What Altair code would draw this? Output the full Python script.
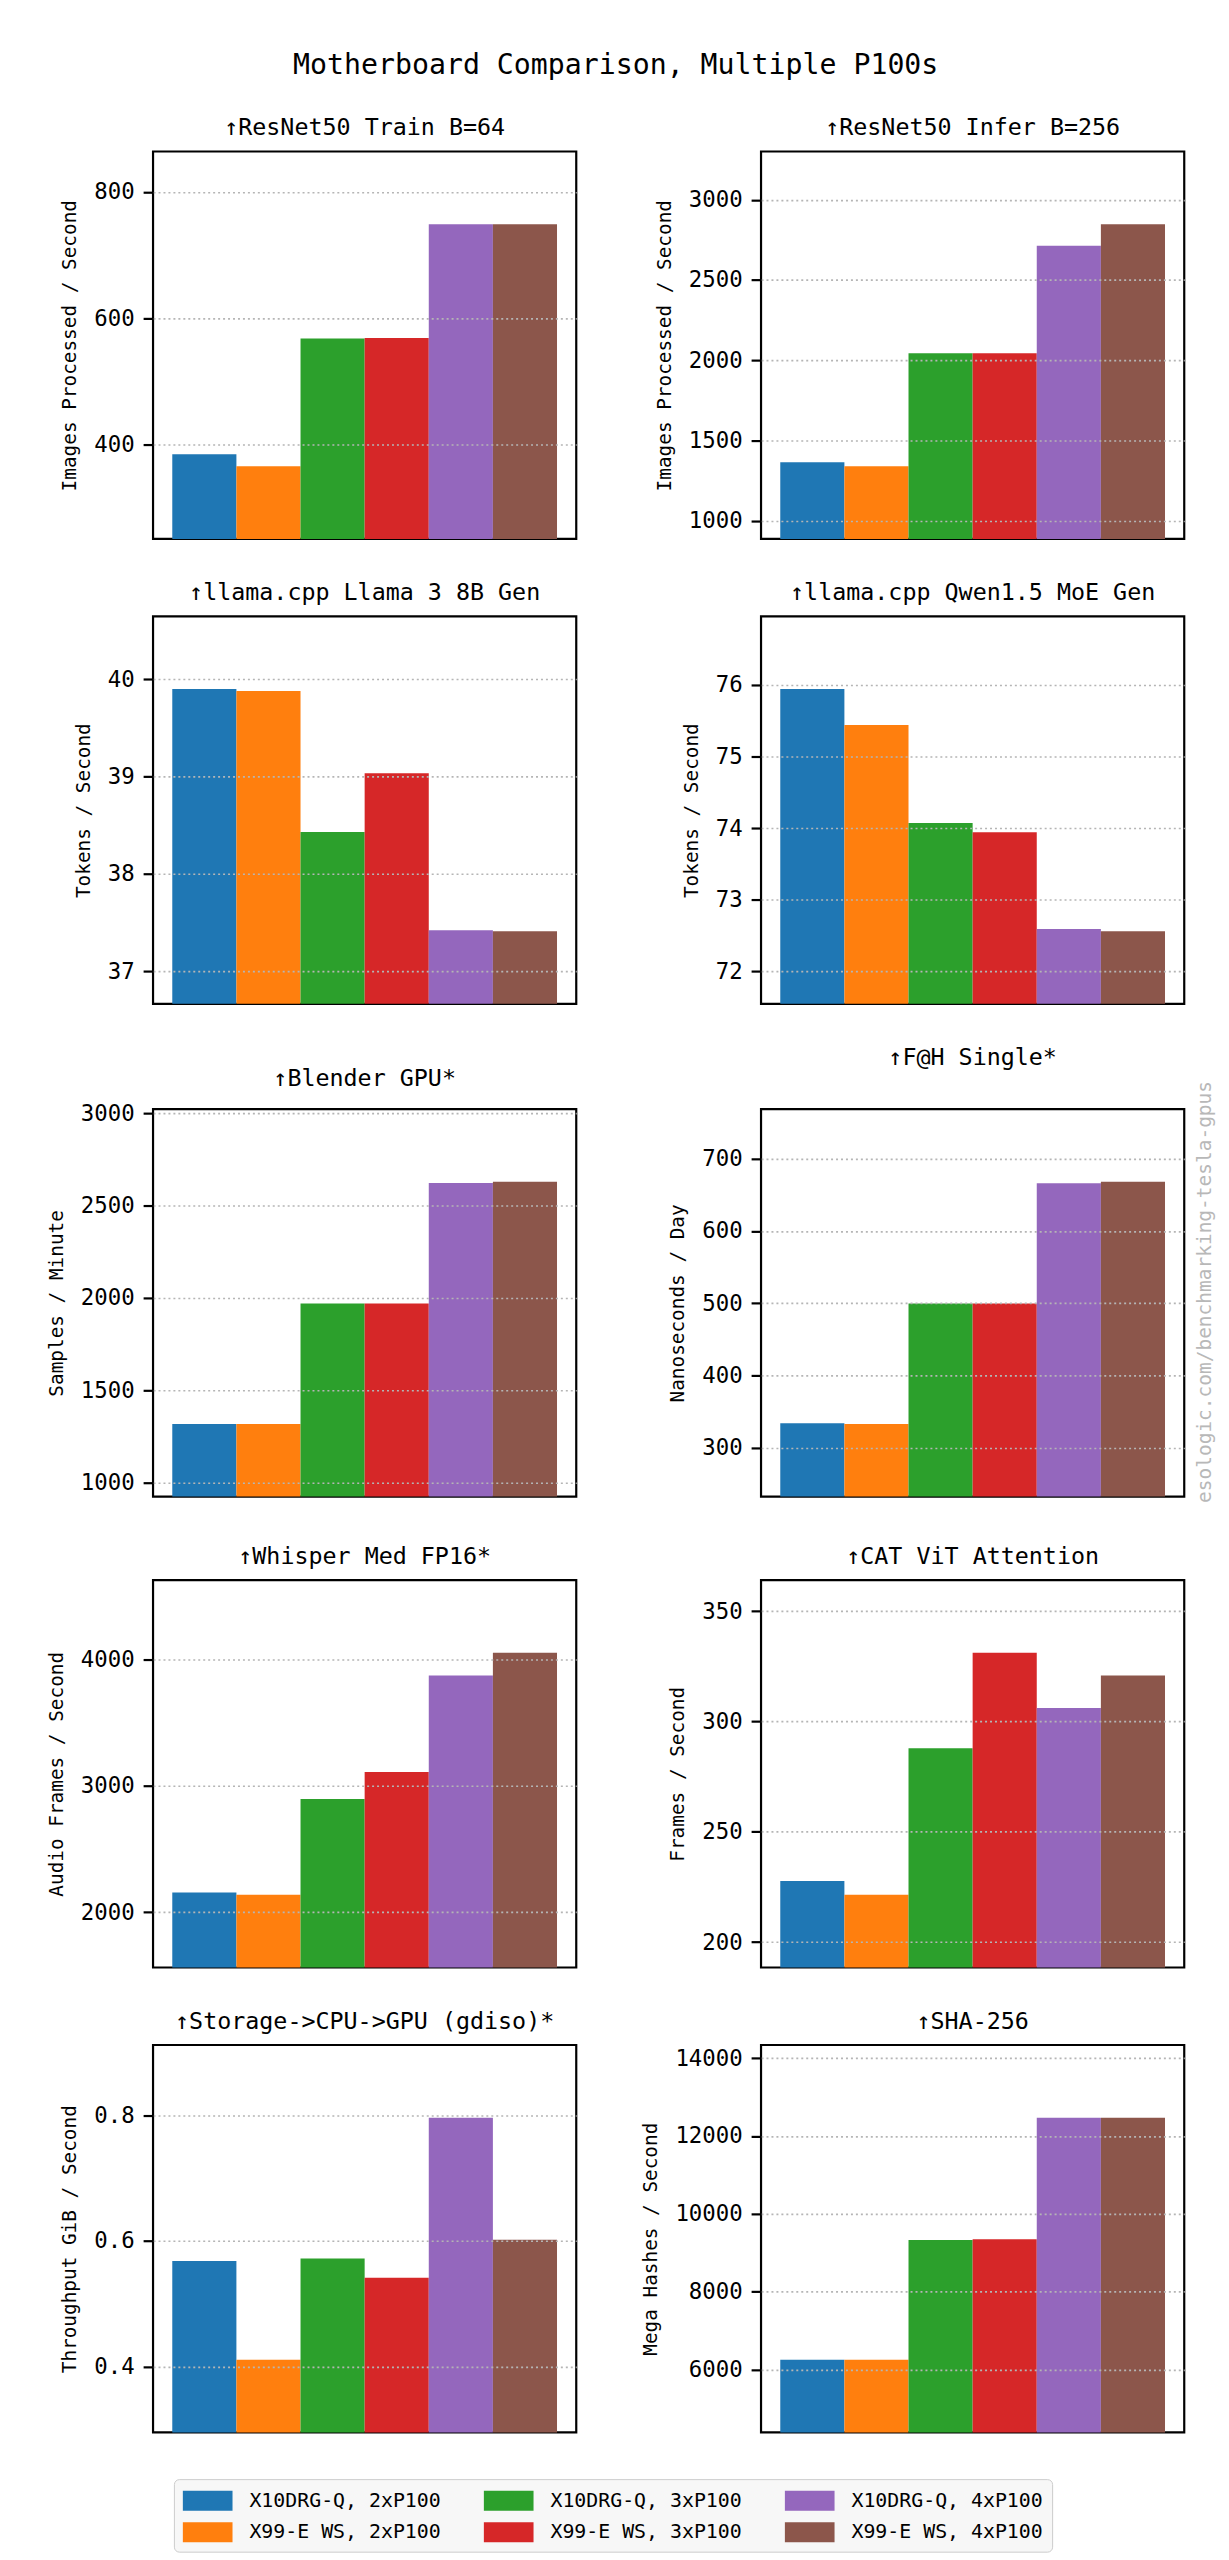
import altair as alt
import pandas as pd

FONT = "DejaVu Sans Mono"

benchmarks = [
    "↑ResNet50 Train B=64", "↑ResNet50 Infer B=256",
    "↑llama.cpp Llama 3 8B Gen", "↑llama.cpp Qwen1.5 MoE Gen",
    "↑Blender GPU*", "↑F@H Single*",
    "↑Whisper Med FP16*", "↑CAT ViT Attention",
    "↑Storage->CPU->GPU (gdiso)*", "↑SHA-256",
]
ylabels = [
    "Images Processed / Second", "Images Processed / Second",
    "Tokens / Second", "Tokens / Second",
    "Samples / Minute", "Nanoseconds / Day",
    "Audio Frames / Second", "Frames / Second",
    "Throughput GiB / Second", "Mega Hashes / Second",
]
configs = [
    "X10DRG-Q, 2xP100", "X99-E WS, 2xP100",
    "X10DRG-Q, 3xP100", "X99-E WS, 3xP100",
    "X10DRG-Q, 4xP100", "X99-E WS, 4xP100",
]
colors = ["#1f77b4", "#ff7f0e", "#2ca02c", "#d62728", "#9467bd", "#8c564b"]

# one list per configuration, one value per benchmark (same order as benchmarks)
x10drg_2 = [385, 1364, 39.90, 75.94, 1317, 334, 2155, 227.7, 0.568, 6246]
x99ews_2 = [366, 1339, 39.88, 75.44, 1317, 333, 2137, 221.4, 0.411, 6246]
x10drg_3 = [568, 2043, 38.43, 74.07, 1970, 499.5, 2895, 287.9, 0.572, 9326]
x99ews_3 = [569, 2043, 39.035, 73.94, 1970, 499.5, 3108, 331.2, 0.5415, 9345]
x10drg_4 = [749, 2714, 37.42, 72.59, 2623, 666, 3872, 306.1, 0.796, 12473]
x99ews_4 = [749, 2848, 37.41, 72.56, 2629, 668, 4052, 320.9, 0.602, 12473]
series = [x10drg_2, x99ews_2, x10drg_3, x99ews_3, x10drg_4, x99ews_4]

tick_values = [
    [400, 600, 800], [1000, 1500, 2000, 2500, 3000],
    [37, 38, 39, 40], [72, 73, 74, 75, 76],
    [1000, 1500, 2000, 2500, 3000], [300, 400, 500, 600, 700],
    [2000, 3000, 4000], [200, 250, 300, 350],
    [0.4, 0.6, 0.8], [6000, 8000, 10000, 12000, 14000],
]
tick_formats = ["d", "d", "d", "d", "d", "d", "d", "d", ".1f", "d"]

watermark = "esologic.com/benchmarking-tesla-gpus"

legend_order = [configs[0], configs[2], configs[4], configs[1], configs[3], configs[5]]
legend_colors = [colors[0], colors[2], colors[4], colors[1], colors[3], colors[5]]

W, H = 426, 390

panels = []
for i, name in enumerate(benchmarks):
    vals = [s[i] for s in series]
    df = pd.DataFrame({"config": configs, "value": vals})
    lo, hi = min(vals), max(vals)
    pad = 0.3 * (hi - lo)
    show_legend = i == 0
    legend = alt.Legend(
        orient="none", legendX=21, legendY=2343, columns=3, direction="horizontal",
        title=None, symbolType="M-1,-0.8H3V0.8H-1Z", symbolSize=625,
        symbolStrokeWidth=0, symbolOpacity=1, labelFontSize=20, labelFont=FONT,
        labelLimit=0, labelOffset=42, columnPadding=43, rowPadding=9, padding=9,
        fillColor="#f7f7f7", strokeColor="#cccccc", cornerRadius=5, labelColor="black",
    ) if show_legend else None
    bars = alt.Chart(df).mark_bar(clip=True, opacity=1).encode(
        x=alt.X("config:N", sort=configs, axis=None,
                scale=alt.Scale(paddingInner=0, paddingOuter=0.3)),
        y=alt.Y("value:Q",
                scale=alt.Scale(domain=[lo - pad, hi + pad], zero=False, nice=False),
                axis=alt.Axis(values=tick_values[i], format=tick_formats[i], title=ylabels[i],
                              grid=True, gridDash=[2, 3], gridColor="#b5b5b5", gridWidth=1.6,
                              domain=False, tickSize=10, tickWidth=2.2, tickColor="black",
                              labelFontSize=22.5, labelFont=FONT, labelPadding=9, labelColor="black",
                              titleFontSize=19.5, titleFont=FONT, titleFontWeight="normal",
                              titlePadding=14, titleColor="black", zindex=1)),
        color=alt.Color("config:N", scale=alt.Scale(domain=legend_order, range=legend_colors),
                        legend=legend),
    )
    chart = bars
    if i == 5:
        wm = alt.Chart(pd.DataFrame({"t": [watermark]})).mark_text(
            angle=270, fontSize=19.6, font=FONT, color="#b8b8b8", align="center",
            baseline="middle", clip=False,
        ).encode(text="t:N", x=alt.value(W + 21), y=alt.value(H / 2 - 11))
        chart = alt.layer(bars, wm)
    chart = chart.properties(
        width=W, height=H,
        title=alt.TitleParams(name, fontSize=23.5, font=FONT, fontWeight="normal",
                              color="black", offset=12, anchor="middle"),
    )
    panels.append(chart)

final = alt.concat(*panels, columns=2, spacing=alt.RowColnumber(column=62, row=39)).properties(
    title=alt.TitleParams("Motherboard Comparison, Multiple P100s", fontSize=28.4, font=FONT,
                          fontWeight="normal", color="black", anchor="middle", offset=35,
                          dx=-15),
    padding={"left": 37, "top": 35, "right": 5, "bottom": 5},
).resolve_scale(y="independent").configure(
    font=FONT, background="white",
    view=alt.ViewConfig(stroke="black", strokeWidth=2.2),
)

final.save("out.html", embed_options={"renderer": "svg", "actions": False})
